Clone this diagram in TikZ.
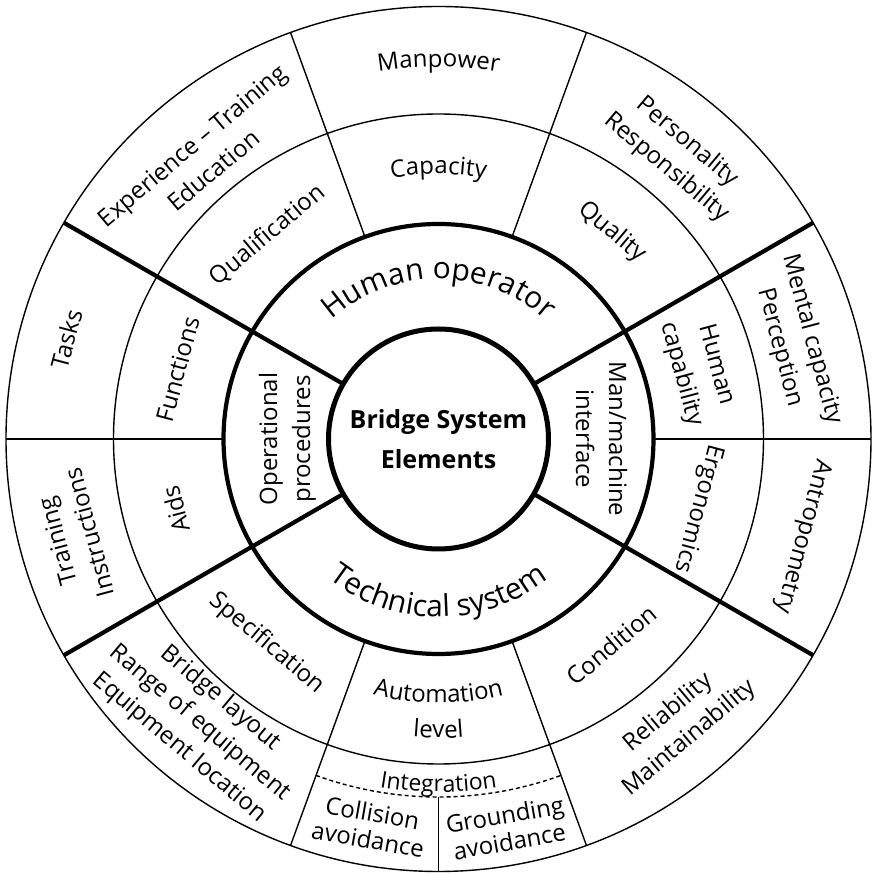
\documentclass[tikz,border=0pt]{standalone}
\usepackage{fontspec}
\setmainfont{Open Sans}
\usetikzlibrary{decorations.text}
\tikzset{
  divthin/.style={line width=1.4pt},
  divthick/.style={line width=4.2pt},
  lbl/.style={font=\fontsize{24}{33}\selectfont, align=center, inner sep=0pt},
  smalllbl/.style={font=\fontsize{24}{27}\selectfont, align=center, inner sep=0pt},
}
\begin{document}
\begin{tikzpicture}
\useasboundingbox (-438.5pt,-435pt) rectangle (437.5pt,439pt);
% circles
\draw[divthin] (0pt,0pt) circle[radius=432.5pt];
\draw[divthin] (0pt,0pt) circle[radius=325pt];
\draw[divthick] (0pt,0pt) circle[radius=215pt];
\draw[line width=5pt] (0pt,0pt) circle[radius=110pt];
% thick radial dividers
\foreach \a in {30,150,210,330} \draw[divthick] (\a:110pt) -- (\a:432.5pt);
% thin radial dividers
\foreach \a in {0,70,110,180,250,290} \draw[divthin] (\a:215pt) -- (\a:432.5pt);
% integration band
\draw[divthin, dash pattern=on 4pt off 3pt] (250:358pt) arc[start angle=250, end angle=290, radius=358pt];
\draw[divthin] (270:358pt) -- (270:432.5pt);

% centre
\node[font=\fontsize{25}{40}\selectfont\bfseries, align=center, inner sep=0pt] (centre) at (0pt,0pt) {Bridge System\\Elements};

% curved texts
\path[decorate, decoration={text along path, text align=center, text={|\fontsize{30}{36}\selectfont|Human operator}}]
  (180:160pt) arc[start angle=180, end angle=0, radius=160pt];
\path[decorate, decoration={text along path, text align=center, text={|\fontsize{30}{36}\selectfont|Technical system}}]
  (180:178pt) arc[start angle=180, end angle=360, radius=178pt];
\path[decorate, decoration={text along path, text align=center, text={|\fontsize{24}{29}\selectfont|Capacity}}]
  (180:265pt) arc[start angle=180, end angle=0, radius=265pt];
\path[decorate, decoration={text along path, text align=center, text={|\fontsize{24}{29}\selectfont|Manpower}}]
  (180:372pt) arc[start angle=180, end angle=0, radius=372pt];
\path[decorate, decoration={text along path, text align=center, text={|\fontsize{24}{29}\selectfont|Automation}}]
  (180:264pt) arc[start angle=180, end angle=360, radius=264pt];
\path[decorate, decoration={text along path, text align=center, text={|\fontsize{24}{29}\selectfont|level}}]
  (180:299pt) arc[start angle=180, end angle=360, radius=299pt];
\path[decorate, decoration={text along path, text align=center, text={|\fontsize{23}{27}\selectfont|Integration}}]
  (180:353pt) arc[start angle=180, end angle=360, radius=353pt];

% ring 2 sides
\node[lbl, rotate=90] (oper) at (180:151pt) {Operational\\procedures};
\node[lbl, rotate=-90] (mmi) at (0:163pt) {Man/machine\\interface};

% ring 3
\node[lbl, rotate=40] (qualif) at (130:266pt) {Qualification};
\node[lbl, rotate=-40] (quality) at (50:270pt) {Quality};
\node[lbl, rotate=75] (functions) at (165:270pt) {Functions};
\node[lbl, rotate=105] (aids) at (195:272pt) {Aids};
\node[lbl, rotate=-75, font=\fontsize{24}{36}\selectfont] (humcap) at (15:269pt) {Human\\capability};
\node[lbl, rotate=-105] (ergo) at (345:269pt) {Ergonomics};
\node[lbl, rotate=-40] (spec) at (230:267pt) {Specification};
\node[lbl, rotate=40] (cond) at (310:269pt) {Condition};

% outer ring
\node[lbl, rotate=40] (exper) at (130:367pt) {Experience – Training\\Education};
\node[lbl, rotate=-40] (person) at (50:371pt) {Personality\\Responsibility};
\node[lbl, rotate=75] (tasks) at (165:385pt) {Tasks};
\node[lbl, rotate=105] (train) at (195:378pt) {Training\\Instructions};
\node[lbl, rotate=-75] (mental) at (15:370pt) {Mental capacity\\Perception};
\node[lbl, rotate=-105] (antro) at (345:377pt) {Antropometry};
\node[lbl, rotate=-40, font=\fontsize{24}{32}\selectfont] (bridge) at (230:371pt) {Bridge layout\\Range of equipment\\Equipment location};
\node[lbl, rotate=40] (relia) at (310:374pt) {Reliability\\Maintainability};
\node[smalllbl, rotate=-10] (collis) at (260:393pt) {Collision\\avoidance};
\node[smalllbl, rotate=10] (ground) at (280:395pt) {Grounding\\avoidance};
\end{tikzpicture}
\end{document}
